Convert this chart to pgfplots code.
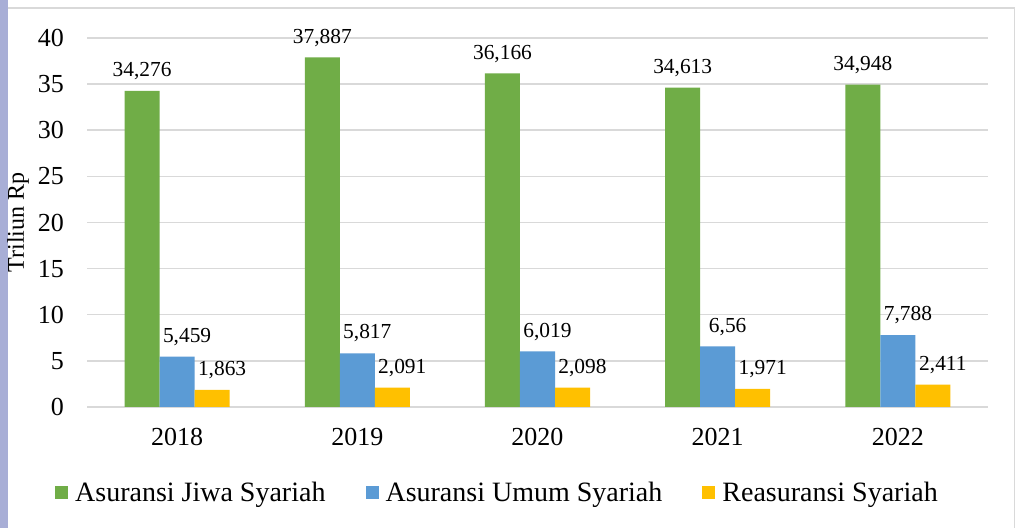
\documentclass[border=0pt]{standalone}
\usepackage{fontspec}
\setmainfont{Liberation Serif}
\usepackage{pgfplots}
\pgfplotsset{compat=1.18}
\definecolor{jiwa}{HTML}{70AD47}
\definecolor{umum}{HTML}{5B9BD5}
\definecolor{reas}{HTML}{FFC000}
\definecolor{gridc}{HTML}{D9D9D9}
\definecolor{lav}{HTML}{A8AED6}
\pgfplotsset{/pgf/number format/assume math mode=true}

\begin{document}
\begin{tikzpicture}
\useasboundingbox (0,0) rectangle (508.5pt,264pt);
\fill[white] (0,0) rectangle (508.5pt,264pt);
\fill[lav] (0,0) rectangle (3.75pt,264pt);
\draw[gridc, line width=0.75pt] (3.75pt,260pt) -- (507.3pt,260pt) -- (507.3pt,0pt);
% y label
\node[rotate=90, font=\fontsize{12}{14}\selectfont] at (9pt,152.75pt) {Triliun Rp};
\begin{axis}[
  at={(43.5pt,60.5pt)}, anchor=south west,
  scale only axis, width=450.5pt, height=184.5pt,
  ybar=0pt, bar width=17.5pt,
  xmin=-0.5, xmax=4.5, ymin=0, ymax=40,
  xtick={0,1,2,3,4}, xticklabels={2018,2019,2020,2021,2022},
  ytick={0,5,...,40},
  axis line style={draw=none},
  major tick length=0pt,
  ymajorgrids, grid style={gridc, line width=0.75pt},
  yticklabel style={font=\fontsize{13}{15}\selectfont, xshift=-8pt},
  xticklabel style={font=\fontsize{13}{15}\selectfont, yshift=-7pt},
  nodes near coords={\pgfmathprintnumber[use comma,fixed,precision=3]{\pgfplotspointmeta}},
  nodes near coords style={font=\fontsize{10.7}{12}\selectfont, black, yshift=2pt},
  legend style={at={(0.4567,-0.233)}, anchor=center, legend columns=3,
    draw=none, fill=none, font=\fontsize{14}{16}\selectfont,
    /tikz/every odd column/.append style={column sep=1.5pt},
    /tikz/every even column/.append style={column sep=18pt}},
  legend image code/.code={\fill[#1] (0pt,-3.25pt) rectangle (6.5pt,3.25pt);},
  clip=false,
]
% Asuransi Jiwa Syariah
\addplot[fill=jiwa, draw=none] coordinates {
  (0,34.276) (1,37.887) (2,36.166) (3,34.613) (4,34.948)};
% Asuransi Umum Syariah
\addplot[fill=umum, draw=none, every node near coord/.append style={xshift=5pt}] coordinates {
  (0,5.459) (1,5.817) (2,6.019) (3,6.56) (4,7.788)};
% Reasuransi Syariah
\addplot[fill=reas, draw=none, every node near coord/.append style={xshift=5pt}] coordinates {
  (0,1.863) (1,2.091) (2,2.098) (3,1.971) (4,2.411)};
\legend{Asuransi Jiwa Syariah, Asuransi Umum Syariah, Reasuransi Syariah}
\end{axis}
\end{tikzpicture}
\end{document}
